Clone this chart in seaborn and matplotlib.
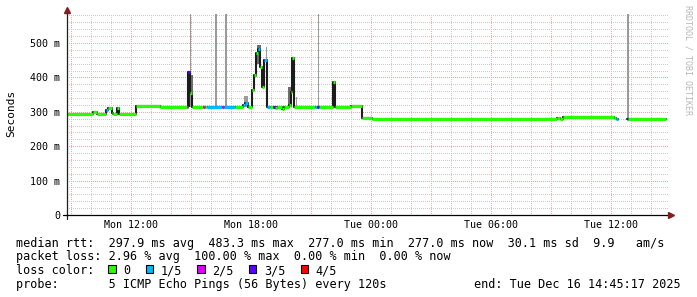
import matplotlib
matplotlib.use("Agg")
import matplotlib.pyplot as plt
import numpy as np
import pandas as pd
import seaborn as sns

# ---------------- data: time = hours since Mon 00:00, rtt in ms ----------------
run_start = [8.80, 10.10, 10.30, 10.75, 10.85, 11.05, 11.10, 11.30, 11.40, 12.25,
             13.45, 14.80, 14.85, 14.95, 15.05, 15.60, 15.70, 15.80, 16.55, 16.65,
             17.20, 17.60, 17.70, 17.85, 18.05, 18.15, 18.25, 18.35, 18.45, 18.55,
             18.65, 18.80, 18.95, 19.10, 19.20, 19.30, 19.55, 19.65, 19.90, 20.00,
             20.05, 20.15, 21.20, 21.30, 21.40, 22.10, 22.20, 23.00, 23.55, 24.05,
             33.30, 33.45, 33.60, 36.15, 36.25, 36.35, 36.80, 36.85]
run_end = [10.10, 10.30, 10.75, 10.85, 11.05, 11.10, 11.30, 11.40, 12.25, 13.45,
           14.80, 14.85, 14.95, 15.05, 15.60, 15.70, 15.80, 16.55, 16.65, 17.20,
           17.60, 17.70, 17.85, 18.05, 18.15, 18.25, 18.35, 18.45, 18.55, 18.65,
           18.80, 18.95, 19.10, 19.20, 19.30, 19.55, 19.65, 19.90, 20.00, 20.05,
           20.15, 21.20, 21.30, 21.40, 22.10, 22.20, 23.00, 23.55, 24.05, 33.30,
           33.45, 33.60, 36.15, 36.25, 36.35, 36.80, 36.85, 38.75]
run_median = [293.6, 299, 293.6, 305, 312, 297, 293.6, 310, 293.6, 316,
              314, 314, 416, 355, 314, 314, 314, 314, 314, 314,
              314, 319, 326, 314, 362, 407, 470, 483.3, 430, 372,
              452, 314, 314, 314, 310, 314, 309, 314, 320, 358,
              456, 314, 314, 314, 314, 388, 314, 318, 283, 278,
              282, 280, 286, 283, 280, np.nan, 278, 278]
run_loss = [0, 0, 0, 1, 0, 0, 0, 0, 0, 0,
            0, 2, 3, 0, 0, 2, 0, 1, 2, 1,
            0, 1, 1, 0, 0, 0, 0, 1, 0, 0,
            1, 1, 0, 3, 0, 0, 0, 0, 0, 0,
            0, 0, 1, 3, 0, 0, 0, 0, 0, 0,
            0, 0, 0, 0, 1, 0, 3, 0]

smoke_start = [14.85, 14.95, 14.95, 16.20, 16.70, 17.65, 18.20, 18.30, 18.50, 18.75,
               19.85, 20.25, 21.35, 22.10, 36.80]
smoke_end = [14.95, 15.10, 15.00, 16.30, 16.80, 17.85, 18.30, 18.50, 18.70, 18.80,
             20.05, 20.30, 21.40, 22.20, 36.90]
smoke_low = [314, 355, 314, 314, 314, 314, 400, 440, 372, 314,
             314, 314, 314, 314, 278]
smoke_high = [416, 407, 1200, 1200, 1200, 346, 470, 494, 430, 489,
              373, 344, 1200, 388, 1200]
smoke_shade = ["dark", "mid", "light", "light", "light", "light", "mid", "mid", "mid", "light",
               "mid", "light", "light", "dark", "light"]

tick_hours = [12, 18, 24, 30, 36]
tick_labels = ["Mon 12:00", "Mon 18:00", "Tue 00:00", "Tue 06:00", "Tue 12:00"]
ytick_values = [0, 100, 200, 300, 400, 500]
ytick_labels = ["0", "100 m", "200 m", "300 m", "400 m", "500 m"]

loss_labels = ["0", "1/5", "2/5", "3/5", "4/5"]
loss_colors = ["#26ff00", "#00b8ff", "#dd00ff", "#5e00ff", "#ff0000"]

rtt_avg, rtt_max, rtt_min, rtt_now, rtt_sd, rtt_ams = 297.9, 483.3, 277.0, 277.0, 30.1, 9.9
loss_avg, loss_max, loss_min, loss_now = 2.96, 100.00, 0.00, 0.00
probe_text = "5 ICMP Echo Pings (56 Bytes) every 120s"
end_text = "Tue Dec 16 14:45:17 2025"

# ---------------- figure ----------------
sns.set_theme(style="white")
plt.rcParams['font.family'] = ['DejaVu Sans Mono', 'DejaVu Sans']

W, H = 697, 297
L, R, T, B = 67, 668, 14, 215
fig = plt.figure(figsize=(W / 100, H / 100), dpi=100, facecolor="white")
ax = fig.add_axes([L / W, 1 - B / H, (R - L) / W, (B - T) / H])
ax.set_facecolor("white")
XMIN, XMAX, YMAX = 8.80, 38.85, 584.3
ax.set_xlim(XMIN, XMAX)
ax.set_ylim(0, YMAX)
for s in ax.spines.values():
    s.set_visible(False)

grid_c = "#cccccc"
mgrid_c = "#eeaaaa"
dash = (0, (1, 2))
hours = np.arange(9, 39)
minor_h = [h for h in hours if h % 3 != 0]
major_h = [h for h in hours if h % 3 == 0]
gkw = dict(lw=0.72, linestyles=[dash], zorder=1, antialiased=False)
ax.vlines(minor_h, 0, YMAX, colors=[grid_c], **gkw)
ax.vlines(major_h, 0, YMAX, colors=[mgrid_c], **gkw)
ylev = np.arange(20, 581, 20)
ax.hlines([v for v in ylev if v % 100 != 0], XMIN, XMAX, colors=[grid_c], **gkw)
ax.hlines([v for v in ylev if v % 100 == 0], XMIN, XMAX, colors=[mgrid_c], **gkw)

# smoke
shade_map = {"light": "#9a9a9a", "mid": "#6e6e6e", "dark": "#262626"}
ax.bar(smoke_start, np.subtract(smoke_high, smoke_low), width=np.subtract(smoke_end, smoke_start),
       bottom=smoke_low, align="edge", color=[shade_map[s] for s in smoke_shade],
       linewidth=0, zorder=2)

# dark step connector of the median
rows = []
chunk = 0
for i, (s, e, v) in enumerate(zip(run_start, run_end, run_median)):
    if np.isnan(v):
        chunk += 1
        continue
    rows.append((s, v, chunk))
    nxt_nan = (i + 1 >= len(run_median)) or np.isnan(run_median[i + 1])
    if nxt_nan:
        rows.append((e, v, chunk))
df = pd.DataFrame(rows, columns=["t", "v", "chunk"])
sns.lineplot(data=df, x="t", y="v", units="chunk", estimator=None, sort=False,
             drawstyle="steps-post", color="#1c1c1c", lw=1.5, legend=False, ax=ax, zorder=3)

# median coloured by loss
ax.hlines(run_median, run_start, run_end, colors=[loss_colors[l] for l in run_loss],
          lw=2.3, zorder=4, capstyle="butt")

# ticks
ax.set_xticks(tick_hours, tick_labels)
ax.set_yticks(ytick_values, ytick_labels)
ax.tick_params(axis="x", length=0, pad=3.5, labelsize=7.2, labelcolor="black")
ax.tick_params(axis="y", length=0, pad=5.0, labelsize=7.2, labelcolor="black")
ax.set_xlabel("")
ax.set_ylabel("")

# axes lines + arrows
axis_c = (0.12, 0.12, 0.12)
arrow_c = (0.5, 0.12, 0.12)
ph, pw = B - T, R - L
ax.plot([0, 0], [-4 / ph, 1 + 2 / ph], transform=ax.transAxes, color=axis_c, lw=0.9,
        clip_on=False, zorder=5)
ax.plot([-4 / pw, 1 + 2 / pw], [0, 0], transform=ax.transAxes, color="black", lw=0.9,
        clip_on=False, zorder=5)
ax.plot([0], [1 + 3.5 / ph], marker="^", ms=4.5, color=arrow_c, mec=arrow_c,
        transform=ax.transAxes, clip_on=False, zorder=6)
ax.plot([1 + 3 / pw], [0], marker=">", ms=4.5, color=arrow_c, mec=arrow_c,
        transform=ax.transAxes, clip_on=False, zorder=6)

# side texts
fig.text(11 / W, 1 - 113 / H, "Seconds", rotation=90, ha="center", va="center",
         fontsize=8, color="black")
fig.text(688 / W, 1 - 60 / H, "RRDTOOL / TOBI OETIKER", rotation=270, ha="center",
         va="center", fontsize=6, color="#b8b8b8")

# legend block
fs = 8.5
def ftext(x, y, s, **kw):
    fig.text(x / W, 1 - y / H, s, fontsize=fs, color="black", va="center_baseline", **kw)

line1 = (f"median rtt:  {rtt_avg:.1f} ms avg  {rtt_max:.1f} ms max  {rtt_min:.1f} ms min  "
         f"{rtt_now:.1f} ms now  {rtt_sd:.1f} ms sd  {rtt_ams:.1f}   am/s")
line2 = (f"packet loss: {loss_avg:.2f} % avg  {loss_max:.2f} % max  {loss_min:.2f} % min  "
         f"{loss_now:.2f} % now")
ftext(16, 241.7, line1)
ftext(16, 255.3, line2)
ftext(16, 269.3, "loss color:")
cw = 7.1
bx = 108.3
for lab, col in zip(loss_labels, loss_colors):
    fig.patches.append(plt.Rectangle((bx / W, 1 - 273.3 / H), 7.5 / W, 8 / H,
                                     transform=fig.transFigure, facecolor=col,
                                     edgecolor="black", lw=0.8))
    ftext(bx + 15, 269.3, lab)
    bx = bx + 15 + len(lab) * cw + 15.3
ftext(16, 283.3, "probe:       " + probe_text)
ftext(681, 283.3, "end: " + end_text, ha="right")

fig.savefig("out.png", dpi=100, facecolor="white")
